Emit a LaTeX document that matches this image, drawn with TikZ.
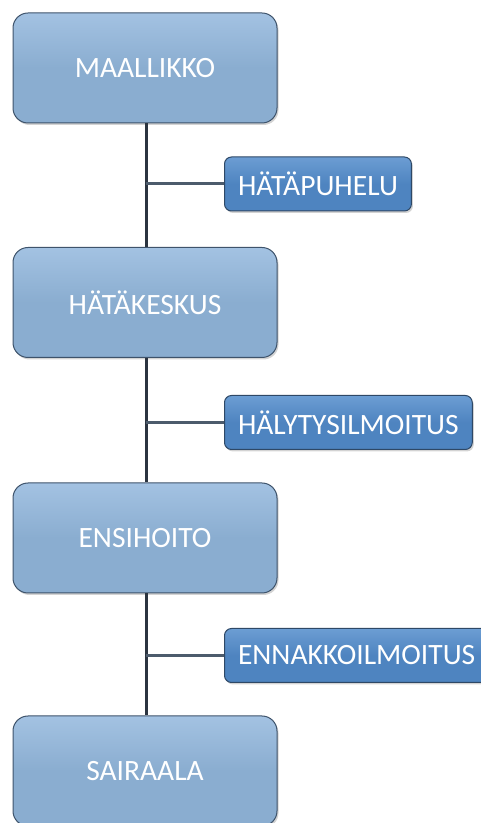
\documentclass[tikz,border=0pt]{standalone}
\usepackage{fontspec}
\setmainfont{Carlito}
\usetikzlibrary{shadows}
\definecolor{bigfill}{HTML}{8AADD0}
\definecolor{bigtop}{HTML}{A3C2E2}
\definecolor{bigdraw}{HTML}{3E536B}
\definecolor{smallfill}{HTML}{4E84C0}
\definecolor{smalltop}{HTML}{6C9DD3}
\definecolor{smalldraw}{HTML}{2E4866}
\definecolor{linecol}{HTML}{2B3440}
\definecolor{hlinecol}{HTML}{4C5B6C}
\tikzset{
  bigbox/.style={draw=bigdraw, line width=1pt, rounded corners=15pt,
    top color=bigtop, bottom color=bigfill, middle color=bigfill,
    minimum width=264pt, minimum height=110pt, text=white,
    font=\fontsize{29.5}{32}\selectfont, inner sep=0pt,
    drop shadow={shadow xshift=1.5pt, shadow yshift=-2pt, opacity=0.35}},
  smallbox/.style={draw=smalldraw, line width=1pt, rounded corners=7pt,
    top color=smalltop, bottom color=smallfill, middle color=smallfill,
    minimum height=54pt, text=white, anchor=west,
    font=\fontsize{29.5}{32}\selectfont, inner xsep=13.5pt, inner ysep=0pt,
    drop shadow={shadow xshift=1.5pt, shadow yshift=-2pt, opacity=0.35}},
  vline/.style={draw=linecol, line width=3pt},
  hline/.style={draw=hlinecol, line width=3pt}
}
\begin{document}
\begin{tikzpicture}[x=1pt,y=1pt]
\useasboundingbox (0,0) rectangle (480,823);
\node[bigbox] (maallikko) at (145,755) {MAALLIKKO};
\node[bigbox] (hatakeskus) at (145,520.5) {HÄTÄKESKUS};
\node[bigbox] (ensihoito) at (145,285) {ENSIHOITO};
\node[bigbox] (sairaala) at (145,52) {SAIRAALA};
\node[smallbox] (puhelu) at (224,639) {HÄTÄPUHELU};
\node[smallbox] (halytys) at (224,400.5) {HÄLYTYSILMOITUS};
\node[smallbox] (ennakko) at (224,167.5) {ENNAKKOILMOITUS};
\draw[vline] (maallikko.south -| 146,0) -- (hatakeskus.north -| 146,0);
\draw[vline] (hatakeskus.south -| 146,0) -- (ensihoito.north -| 146,0);
\draw[vline] (ensihoito.south -| 146,0) -- (sairaala.north -| 146,0);
\coordinate (j1) at (146,639);
\coordinate (j2) at (146,400.5);
\coordinate (j3) at (146,167.5);
\draw[hline] (j1) -- (puhelu.west);
\draw[hline] (j2) -- (halytys.west);
\draw[hline] (j3) -- (ennakko.west);
\end{tikzpicture}
\end{document}
